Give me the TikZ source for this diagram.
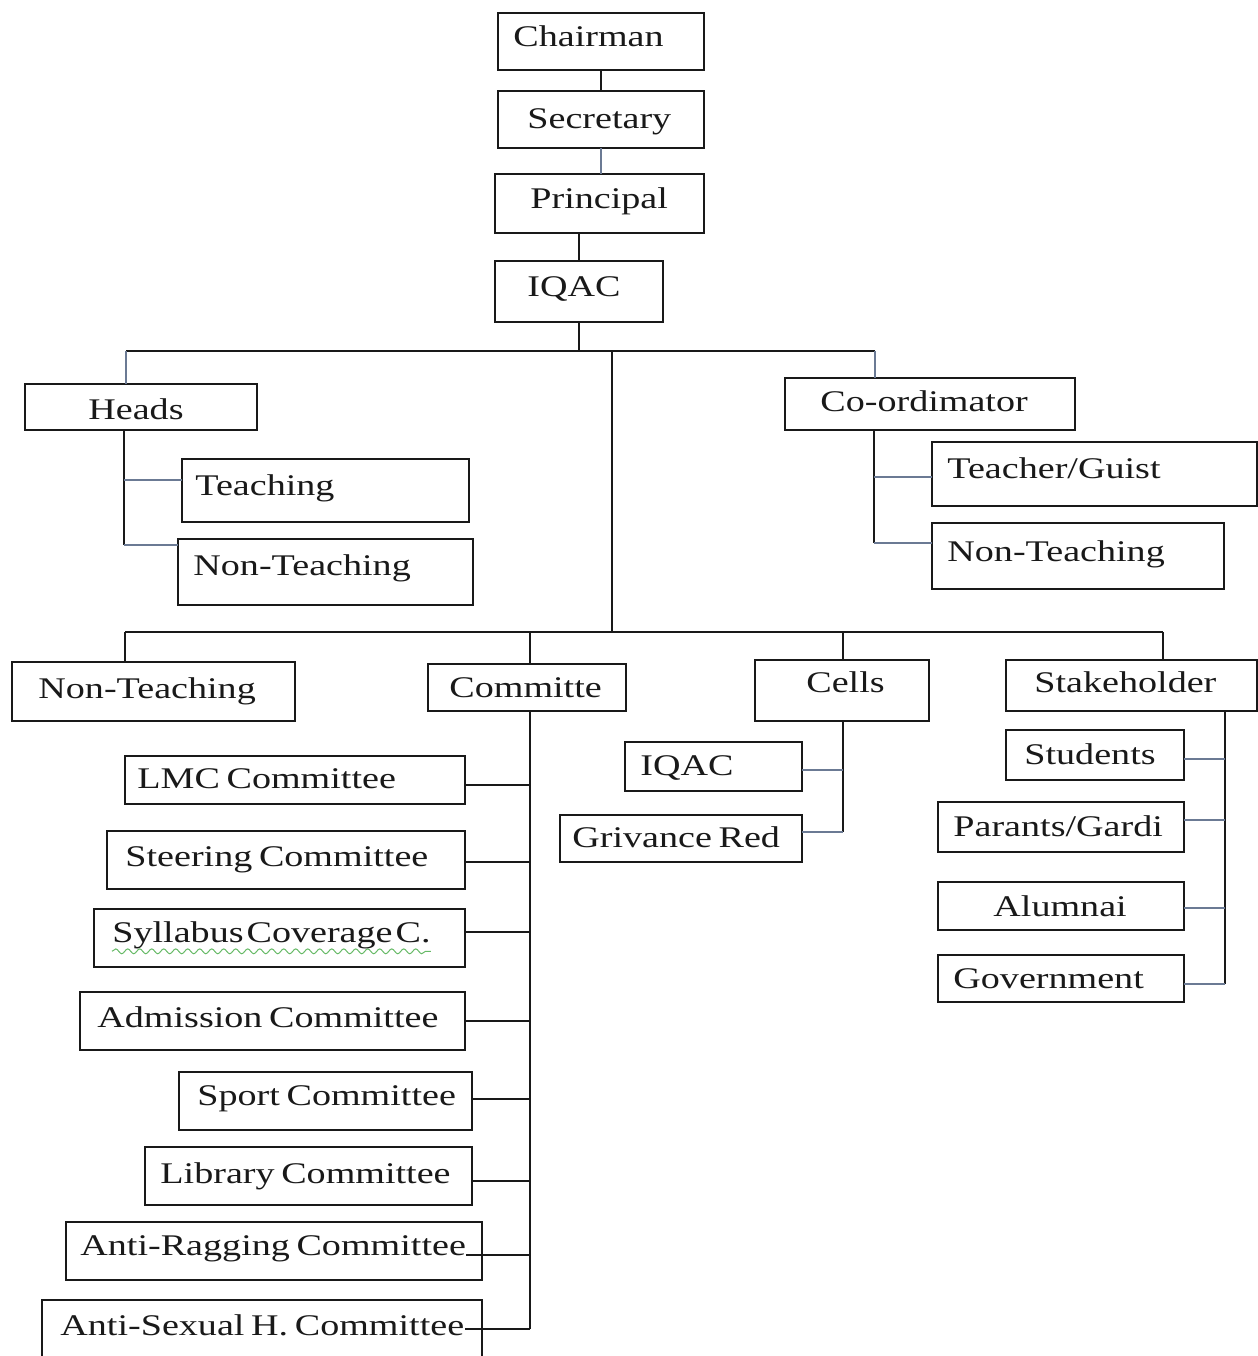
\documentclass[tikz,border=0pt]{standalone}
\usepackage{fontspec}
\setmainfont[FakeStretch=1.27,WordSpace=0.7]{Liberation Serif}
\usetikzlibrary{decorations.pathmorphing}
\definecolor{lite}{rgb}{0.42,0.48,0.58}
\newcommand\mkbox[5]{\node[box,minimum width={(#4-#2)*0.5pt},minimum height={(#5-#3)*0.5pt}] (#1) at ({(#2+#4)/2},{(#3+#5)/2}) {};}
\newcommand\mklbl[4]{\node[lbl] (#1-t) at (#2,#3) {#4};}
\begin{document}
\begin{tikzpicture}[x=0.5pt,y=-0.5pt,
 box/.style={draw=black!90,line width=1pt,inner sep=0pt,outer sep=0pt},
 lbl/.style={anchor=west,inner sep=0pt,text height=9.9pt,text depth=0pt,font=\fontsize{15pt}{18pt}\selectfont,text=black!90},
 ln/.style={draw=black!90,line width=1pt},
 lt/.style={draw=lite,line width=0.8pt}]
\useasboundingbox[fill=white] (0,0) rectangle (1258,1356);
\clip (0,0) rectangle (1258,1356);
% boxes
\mkbox{chair}{498}{13}{704}{70}
\mkbox{sec}{498}{91}{704}{148}
\mkbox{prin}{495}{174}{704}{233}
\mkbox{iqac}{495}{261}{663}{322}
\mkbox{heads}{25}{384}{257}{430}
\mkbox{teach}{182}{459}{469}{522}
\mkbox{ntl}{178}{539}{473}{605}
\mkbox{coord}{785}{378}{1075}{430}
\mkbox{tg}{932}{442}{1257}{506}
\mkbox{ntr}{932}{523}{1224}{589}
\mkbox{nt2}{12}{662}{295}{721}
\mkbox{comm}{428}{664}{626}{711}
\mkbox{cells}{755}{660}{929}{721}
\mkbox{stake}{1006}{660}{1257}{711}
\mkbox{lmc}{125}{756}{465}{804}
\mkbox{steer}{107}{831}{465}{889}
\mkbox{syl}{94}{909}{465}{967}
\mkbox{adm}{80}{992}{465}{1050}
\mkbox{sport}{179}{1072}{472}{1130}
\mkbox{lib}{145}{1147}{472}{1205}
\mkbox{ar}{66}{1222}{482}{1280}
\mkbox{ash}{42}{1300}{482}{1372}
\mkbox{ciqac}{625}{742}{802}{791}
\mkbox{griv}{560}{815}{802}{862}
\mkbox{stud}{1006}{730}{1184}{780}
\mkbox{par}{938}{802}{1184}{852}
\mkbox{alum}{938}{882}{1184}{930}
\mkbox{gov}{938}{955}{1184}{1002}
% labels
\mklbl{chair}{513}{37}{Chairman}
\mklbl{sec}{527}{119}{Secretary}
\mklbl{prin}{530}{199}{Principal}
\mklbl{iqac}{527}{287}{IQAC}
\mklbl{heads}{88}{410}{Heads}
\mklbl{teach}{195}{486}{Teaching}
\mklbl{ntl}{193}{566}{Non-Teaching}
\mklbl{coord}{820}{402}{Co-ordimator}
\mklbl{tg}{947}{469}{Teacher/Guist}
\mklbl{ntr}{947}{552}{Non-Teaching}
\mklbl{nt2}{38}{689}{Non-Teaching}
\mklbl{comm}{449}{688}{Committe}
\mklbl{cells}{806}{683}{Cells}
\mklbl{stake}{1034}{683}{Stakeholder}
\mklbl{lmc}{137}{779}{LMC Committee}
\mklbl{steer}{125}{857}{Steering Committee}
\mklbl{syl}{112}{933}{Syllabus\hspace{1.5pt}Coverage\hspace{1.5pt}C.}
\mklbl{adm}{97}{1018}{Admission Committee}
\mklbl{sport}{197}{1096}{Sport Committee}
\mklbl{lib}{160}{1174}{Library Committee}
\mklbl{ar}{80}{1246}{Anti-Ragging Committee}
\mklbl{ash}{60}{1326}{Anti-Sexual H. Committee}
\mklbl{ciqac}{640}{766}{IQAC}
\mklbl{griv}{572}{838}{Grivance Red}
\mklbl{stud}{1024}{755}{Students}
\mklbl{par}{953}{827}{Parants/Gardi}
\mklbl{alum}{993}{907}{Alumnai}
\mklbl{gov}{953}{979}{Government}
% spell-check squiggle
\draw[green!55!black,opacity=0.6,line width=0.5pt,decorate,decoration={snake,amplitude=1.2,segment length=6}] (syl-t.south west) ++(0,8) coordinate (sq1) (sq1) -- (sq1 -| syl-t.south east);
% coordinates
\coordinate (busL) at (126,351);
\coordinate (busR) at (875,351);
\coordinate (busC) at (612,351);
\coordinate (bus2C) at (612,632);
\coordinate (b2L) at (125,632);
\coordinate (b2a) at (530,632);
\coordinate (b2b) at (843,632);
\coordinate (b2R) at (1163,632);
\coordinate (hv1) at (124,430);
\coordinate (hb1) at (124,480);
\coordinate (hv2) at (124,545);
\coordinate (cv1) at (874,430);
\coordinate (cb1) at (874,477);
\coordinate (cv2) at (874,543);
\coordinate (mv1) at (530,711);
\coordinate (mb1) at (530,785);
\coordinate (mb2) at (530,862);
\coordinate (mb3) at (530,932);
\coordinate (mb4) at (530,1021);
\coordinate (mb5) at (530,1099);
\coordinate (mb6) at (530,1181);
\coordinate (mb7) at (530,1255);
\coordinate (mb8) at (530,1329);
\coordinate (kv1) at (843,721);
\coordinate (kb1) at (843,770);
\coordinate (kb2) at (843,832);
\coordinate (sv1) at (1225,711);
\coordinate (sb1) at (1225,759);
\coordinate (sb2) at (1225,820);
\coordinate (sb3) at (1225,908);
\coordinate (sb4) at (1225,984);
% top chain
\draw[ln] (chair.south) -- (chair.south |- sec.north);
\draw[lt] (sec.south) -- (sec.south |- prin.north);
\draw[ln] (iqac.north) -- (iqac.north |- prin.south);
\draw[ln] (iqac.south) -- (iqac.south |- busL);
\draw[ln] (busL) -- (busR);
\draw[lt] (busL) -- (busL |- heads.north);
\draw[lt] (busR) -- (busR |- coord.north);
\draw[ln] (busC) -- (bus2C);
% heads
\draw[ln] (hv1) -- (hv2);
\draw[lt] (hb1) -- (hb1 -| teach.west);
\draw[lt] (hv2) -- (hv2 -| ntl.west);
% coordinator
\draw[ln] (cv1) -- (cv2);
\draw[lt] (cb1) -- (cb1 -| tg.west);
\draw[lt] (cv2) -- (cv2 -| ntr.west);
% second bus
\draw[ln] (b2L) -- (b2R);
\draw[ln] (b2L) -- (b2L |- nt2.north);
\draw[ln] (b2a) -- (b2a |- comm.north);
\draw[ln] (b2b) -- (b2b |- cells.north);
\draw[ln] (b2R) -- (b2R |- stake.north);
% committees
\draw[ln] (mv1) -- (mb8);
\draw[ln] (mb1) -- (mb1 -| lmc.east);
\draw[ln] (mb2) -- (mb2 -| steer.east);
\draw[ln] (mb3) -- (mb3 -| syl.east);
\draw[ln] (mb4) -- (mb4 -| adm.east);
\draw[ln] (mb5) -- (mb5 -| sport.east);
\draw[ln] (mb6) -- (mb6 -| lib.east);
\draw[ln] (mb7) -- (mb7 -| ar-t.east);
\draw[ln] (mb8) -- (mb8 -| ash-t.east);
% cells
\draw[ln] (kv1) -- (kb2);
\draw[lt] (kb1) -- (kb1 -| ciqac.east);
\draw[lt] (kb2) -- (kb2 -| griv.east);
% stakeholders
\draw[ln] (sv1) -- (sb4);
\draw[lt] (sb1) -- (sb1 -| stud.east);
\draw[lt] (sb2) -- (sb2 -| par.east);
\draw[lt] (sb3) -- (sb3 -| alum.east);
\draw[lt] (sb4) -- (sb4 -| gov.east);
\end{tikzpicture}
\end{document}
